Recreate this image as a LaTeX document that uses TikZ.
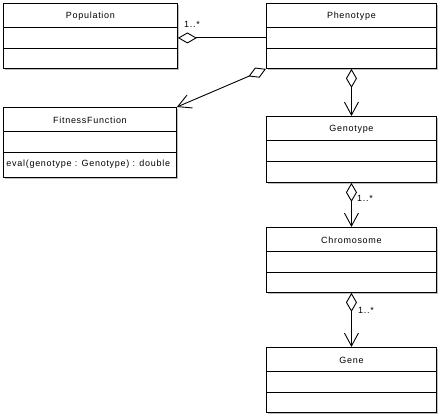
\documentclass[tikz,border=0pt]{standalone}
\usepackage{fontspec}
\setmainfont{Liberation Sans}[LetterSpace=8]
\usetikzlibrary{arrows.meta, shadows}

\begin{document}
\begin{tikzpicture}[x=1pt, y=-1pt, line width=0.9pt,
    classbox/.style={draw, fill=white, inner sep=0pt, anchor=north west,
        drop shadow={shadow xshift=1.5pt, shadow yshift=-1.5pt, fill=black!25, opacity=1}},
    classname/.style={font=\fontsize{9}{11}\selectfont, inner sep=0pt},
    member/.style={font=\fontsize{9}{11}\selectfont, inner sep=0pt, anchor=west},
    mult/.style={font=\fontsize{9}{11}\selectfont, inner sep=0pt},
    aggr/.style={{Diamond[open, length=19pt, width=11pt]}-},
    aggrnav/.style={{Diamond[open, length=19pt, width=11pt]}-{Straight Barb[length=13pt, width=14pt]}}]
    \useasboundingbox (0,0) rectangle (446,419);
    % Classes
    \foreach \nm/\txt/\x/\y/\w/\h in {pop/Population/3/3/174/65,
        pheno/Phenotype/266/3/170/65, fit/FitnessFunction/3/107/173/70,
        geno/Genotype/266/116/170/66, chrom/Chromosome/266/227/170/65,
        gene/Gene/266/347/170/65} {
        \node[classbox, minimum width=\w pt, minimum height=\h pt] (\nm) at (\x,\y) {};
        \node[classname] (\nm-name) at ([yshift=-13pt]\nm.north) {\txt};
        \draw ([yshift=-24pt]\nm.north west) -- ([yshift=-24pt]\nm.north east);
        \draw ([yshift=-45pt]\nm.north west) -- ([yshift=-45pt]\nm.north east);
    }
    % Operation
    \node[member] (fit-eval) at ([xshift=3pt, yshift=-57pt]fit.north west) {eval(genotype : Genotype) : double};
    % Associations
    \draw[aggr] ([yshift=-2pt]pop.east) -- ([yshift=-2pt]pheno.west);
    \node[mult] (pop-mult) at (192,24) {1..*};
    \draw[aggrnav] (pheno.south west) -- (fit.north east);
    \draw[aggrnav] (pheno.south) -- (geno.north);
    \draw[aggrnav] (geno.south) -- (chrom.north);
    \node[mult] (chrom-mult) at (365,198) {1..*};
    \draw[aggrnav] (chrom.south) -- (gene.north);
    \node[mult] (gene-mult) at (366,310) {1..*};
\end{tikzpicture}
\end{document}
